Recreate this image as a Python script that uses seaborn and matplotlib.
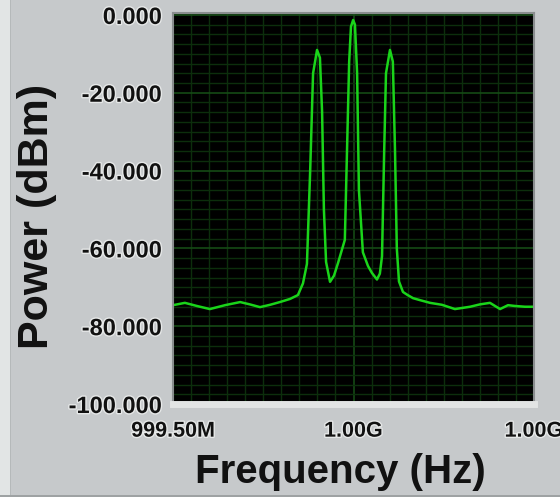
import numpy as np
import pandas as pd
import matplotlib
matplotlib.use("Agg")
import matplotlib.pyplot as plt
import matplotlib.patheffects as pe
from matplotlib.patches import Rectangle
from matplotlib.ticker import MultipleLocator
import seaborn as sns

# ---- data ----
freq_mhz = [999.500, 999.533, 999.566, 999.602, 999.644, 999.686, 999.713, 999.741,
            999.769, 999.796, 999.824, 999.846, 999.860, 999.871, 999.880, 999.888,
            999.899, 999.907, 999.913, 999.918, 999.924, 999.935, 999.946, 999.957,
            999.976, 999.982, 999.988, 999.993, 999.999, 1000.004, 1000.010, 1000.015,
            1000.026, 1000.040, 1000.051, 1000.065, 1000.073, 1000.079, 1000.085,
            1000.090, 1000.101, 1000.109, 1000.115, 1000.120, 1000.126, 1000.137,
            1000.150, 1000.165, 1000.184, 1000.212, 1000.245, 1000.281, 1000.323,
            1000.350, 1000.378, 1000.406, 1000.428, 1000.447, 1000.475, 1000.500]
power_dbm = [-74.6, -74.0, -74.8, -75.6, -74.6, -73.8, -74.4, -75.1,
             -74.5, -73.8, -73.0, -72.0, -69.0, -64.0, -40.0, -15.0,
             -9.0, -11.0, -25.0, -50.0, -63.5, -68.6, -67.0, -63.8,
             -57.8, -35.0, -12.0, -3.0, -1.3, -2.5, -15.0, -45.0,
             -61.0, -64.5, -66.3, -68.0, -66.5, -62.0, -35.0,
             -15.0, -9.0, -12.0, -35.0, -60.0, -68.5, -71.2,
             -72.0, -72.8, -73.3, -74.0, -74.5, -75.6, -75.0,
             -74.4, -74.0, -75.6, -74.6, -74.8, -75.0, -75.0]

x_ticks = [999.5, 1000.0, 1000.5]
x_tick_labels = ["999.50M", "1.00G", "1.00G"]
y_ticks = [0, -20, -40, -60, -80, -100]
y_tick_labels = ["0.000", "-20.000", "-40.000", "-60.000", "-80.000", "-100.000"]

x_label = "Frequency (Hz)"
y_label = "Power (dBm)"

df = pd.DataFrame({"freq": freq_mhz, "power": power_dbm})

# ---- style ----
sns.set_style("white")
plt.rcParams["font.family"] = ["Liberation Sans", "DejaVu Sans"]
plt.rcParams["font.weight"] = "bold"

BG = "#c6c9cb"
W, H = 560, 497
fig = plt.figure(figsize=(W / 100, H / 100), dpi=100, facecolor=BG)

# window frame: light strip on the left, thin line at the bottom
fig.patches.append(Rectangle((0, 0), 10 / W, 1, transform=fig.transFigure,
                             facecolor="#e2e5e5", edgecolor="none", zorder=0))
fig.patches.append(Rectangle((10 / W, 0), 1.2 / W, 1, transform=fig.transFigure,
                             facecolor="#b5b9ba", edgecolor="none", zorder=0))
fig.patches.append(Rectangle((0, 0), 1, 2 / H, transform=fig.transFigure,
                             facecolor="#9ea2a3", edgecolor="none", zorder=0))

left, right, top, bottom = 173, 534, 13, 404
ax = fig.add_axes([left / W, 1 - bottom / H, (right - left) / W, (bottom - top) / H])
ax.set_facecolor("#000000")

# grid
ax.xaxis.set_minor_locator(MultipleLocator(0.05))
ax.yaxis.set_minor_locator(MultipleLocator(2.5))
ax.grid(which="minor", color="#0c2e0c", linewidth=1.0)
ax.grid(which="major", color="#154a15", linewidth=1.2)
ax.set_axisbelow(True)

sns.lineplot(data=df, x="freq", y="power", ax=ax, color="#1ad41a",
             linewidth=1.8, sort=False, legend=False)

ax.set_xlim(999.5, 1000.5)
ax.set_ylim(-100, 0.5)

ax.set_xticks(x_ticks)
ax.set_xticklabels(x_tick_labels)
ax.set_yticks(y_ticks)
ax.set_yticklabels(y_tick_labels)

halo = [pe.withStroke(linewidth=2.0, foreground="#e6e8e8")]
for lab in ax.get_xticklabels():
    lab.set_fontsize(15.5)
    lab.set_fontweight("bold")
    lab.set_color("#111111")
    lab.set_path_effects(halo)
for lab in ax.get_yticklabels():
    lab.set_fontsize(17)
    lab.set_fontweight("bold")
    lab.set_color("#111111")
    lab.set_path_effects(halo)

ax.tick_params(axis="both", which="minor", length=0)
ax.tick_params(axis="x", which="major", length=7, width=1.5, color="#555555",
               direction="out", pad=5)
ax.tick_params(axis="y", which="major", length=6, width=1.5, color="#555555",
               direction="out", pad=2)

for s in ax.spines.values():
    s.set_color("#8a8d8f")
    s.set_linewidth(1.5)
ax.spines["bottom"].set_color("#e2e4e4")
ax.spines["bottom"].set_linewidth(5)

ax.set_xlabel(x_label, fontsize=29, fontweight="bold", color="#111111", labelpad=6)
ax.set_ylabel(y_label, fontsize=31, fontweight="bold", color="#111111", labelpad=4)
ax.xaxis.set_label_coords((340 - left) / (right - left), -(472 - bottom) / (bottom - top))
ax.yaxis.set_label_coords(-(left - 37) / (right - left), (bottom - 216) / (bottom - top))
ax.xaxis.label.set_va("center")
ax.yaxis.label.set_va("center")

fig.savefig("out.png", dpi=100, facecolor=BG)
